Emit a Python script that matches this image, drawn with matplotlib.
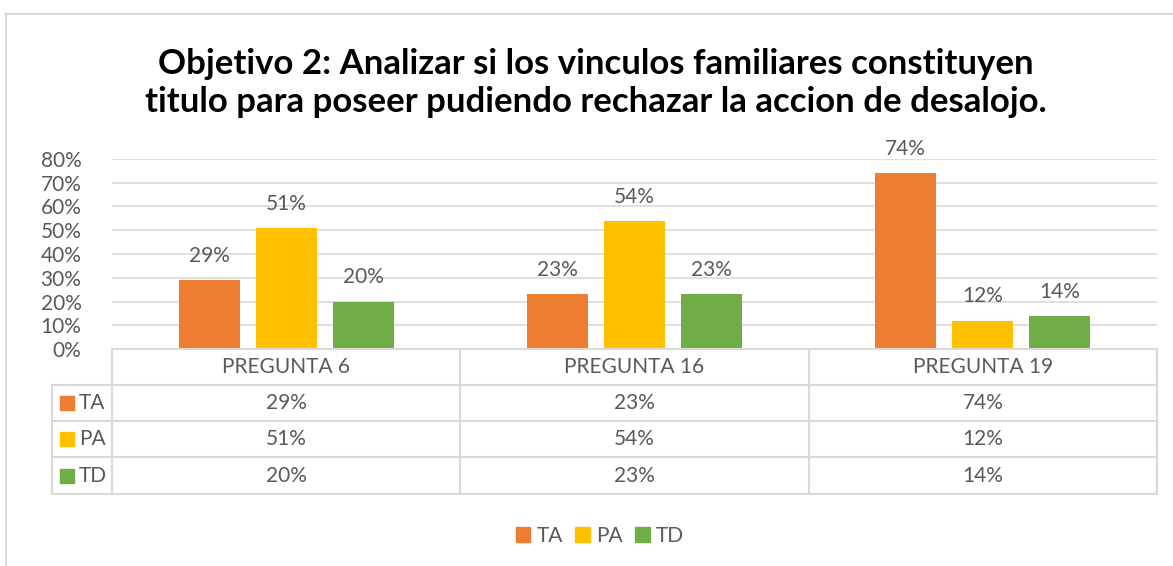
import matplotlib
matplotlib.use("Agg")
import matplotlib.pyplot as plt
from matplotlib.patches import Rectangle
from matplotlib.lines import Line2D
import numpy as np

categories = ["PREGUNTA 6", "PREGUNTA 16", "PREGUNTA 19"]
series = ["TA", "PA", "TD"]
ta = [0.29, 0.23, 0.74]
pa = [0.51, 0.54, 0.12]
td = [0.20, 0.23, 0.14]
values = [ta, pa, td]
colors = ["#ED7D31", "#FFC000", "#70AD47"]
title = "Objetivo 2: Analizar si los vinculos familiares constituyen\ntitulo para poseer pudiendo rechazar la accion de desalojo."

W, H = 1173, 566
FONT = "Lato"
TXT = "#595959"
GRID = "#D9D9D9"
FS = 15

fig = plt.figure(figsize=(W / 100, H / 100), dpi=100)

def fx(x): return x / W
def fy(y): return 1 - y / H

# chart border
fig.add_artist(Rectangle((fx(6), fy(600)), fx(1300), (600 - 14) / H, fill=False,
                         edgecolor=GRID, lw=1.5, transform=fig.transFigure))

x0, x1, ytop, ybot = 112, 1157, 159, 349
ax = fig.add_axes([fx(x0), fy(ybot), (x1 - x0) / W, (ybot - ytop) / H])
ax.set_xlim(0, len(categories))
ax.set_ylim(0, 0.8)
ax.set_yticks(np.arange(0, 0.81, 0.1))
ax.set_yticklabels([f"{int(round(v*100))}%" for v in np.arange(0, 0.81, 0.1)],
                   fontsize=FS, color=TXT, family=FONT)
ax.tick_params(axis="y", length=0, pad=22)
ax.set_xticks([])
for s in ax.spines.values():
    s.set_visible(False)
ax.grid(axis="y", color=GRID, lw=1.2)
ax.set_axisbelow(True)

bw = 61 / 348
gap = 16 / 348
xs = np.arange(len(categories)) + 0.5
for i, (vals, c) in enumerate(zip(values, colors)):
    pos = xs + (i - 1) * (bw + gap)
    ax.bar(pos, vals, width=bw, color=c, zorder=3)
    for p, v in zip(pos, vals):
        ax.text(p, v + 0.076, f"{int(round(v*100))}%", ha="center", va="baseline",
                fontsize=FS, color=TXT, family=FONT)

# title
fig.text(fx(596), fy(83), title, ha="center", va="center", fontsize=25,
         fontweight="bold", family=FONT, color="black", linespacing=1.2)

# data table
col_edges = [x0 + (x1 - x0) * k / len(categories) for k in range(len(categories) + 1)]
row_edges = [349, 385, 421, 457, 494]
lx = 52

def hline(xa, xb, y):
    fig.add_artist(Line2D([fx(xa), fx(xb)], [fy(y), fy(y)], color=GRID, lw=1.5,
                          transform=fig.transFigure))

def vline(x, ya, yb):
    fig.add_artist(Line2D([fx(x), fx(x)], [fy(ya), fy(yb)], color=GRID, lw=1.5,
                          transform=fig.transFigure))

hline(x0, x1, row_edges[0])
for y in row_edges[1:]:
    hline(lx, x1, y)
for x in col_edges:
    vline(x, row_edges[0], row_edges[-1])
vline(lx, row_edges[1], row_edges[-1])

for j, cat in enumerate(categories):
    cx = (col_edges[j] + col_edges[j + 1]) / 2
    fig.text(fx(cx), fy((row_edges[0] + row_edges[1]) / 2), cat, ha="center", va="center",
             fontsize=FS, color=TXT, family=FONT)
    for i, vals in enumerate(values):
        cy = (row_edges[i + 1] + row_edges[i + 2]) / 2
        fig.text(fx(cx), fy(cy), f"{int(round(vals[j]*100))}%", ha="center", va="center",
                 fontsize=FS, color=TXT, family=FONT)

for i, (s, c) in enumerate(zip(series, colors)):
    cy = (row_edges[i + 1] + row_edges[i + 2]) / 2
    fig.add_artist(Rectangle((fx(60), fy(cy + 7)), 14 / W, 14 / H, color=c,
                             transform=fig.transFigure))
    fig.text(fx(79), fy(cy), s, ha="left", va="center", fontsize=FS, color=TXT, family=FONT)

# legend
handles = [Rectangle((0, 0), 1, 1, color=c) for c in colors]
fig.legend(handles, series, loc="center", bbox_to_anchor=(fx(600), fy(536)), ncol=3,
           frameon=False, prop={"family": FONT, "size": FS}, labelcolor=TXT,
           handlelength=0.7, handleheight=0.7, handletextpad=0.3, columnspacing=0.6)

fig.savefig("out.png", dpi=100)
